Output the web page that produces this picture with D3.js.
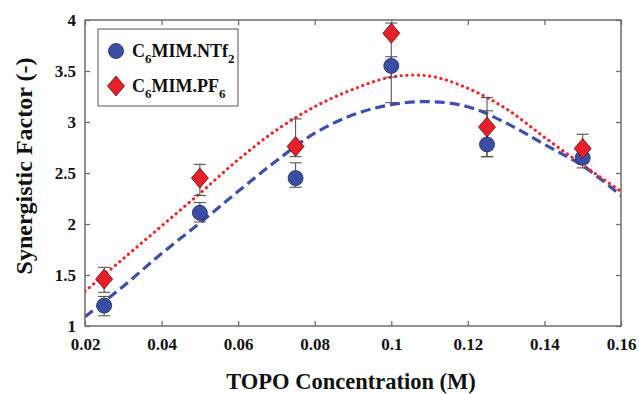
<!DOCTYPE html>
<html><head><meta charset="utf-8">
<script src="https://cdn.jsdelivr.net/npm/d3@7"></script>
<style>body{margin:0;background:#fff}svg{display:block}
svg text{font-family:"Liberation Serif","Times New Roman","DejaVu Serif",serif !important;font-weight:bold}</style>
</head><body>
<svg id="c" width="639" height="394"></svg>
<script>
// ---- data ----
const concentrations = [0.025, 0.05, 0.075, 0.1, 0.125, 0.15];
const ntf2Values = [1.20, 2.11, 2.45, 3.55, 2.78, 2.65];
const ntf2Low    = [1.10, 2.02, 2.36, 3.19, 2.66, 2.55];
const ntf2High   = [1.29, 2.21, 2.60, 3.64, 3.11, 2.73];
const pf6Values  = [1.46, 2.45, 2.76, 3.87, 2.95, 2.74];
const pf6Low     = [1.33, 2.28, 2.66, 3.44, 2.66, 2.60];
const pf6High    = [1.575, 2.585, 3.03, 3.97, 3.24, 2.88];
// fitted curves
const curveX     = [0.02, 0.03, 0.04, 0.05, 0.06, 0.07, 0.08, 0.09, 0.10, 0.11, 0.12, 0.13, 0.14, 0.15, 0.16];
const ntf2Fit    = [1.09, 1.39, 1.71, 2.01, 2.32, 2.62, 2.89, 3.07, 3.17, 3.20, 3.15, 2.99, 2.78, 2.57, 2.28];
const pf6Fit     = [1.34, 1.66, 1.98, 2.30, 2.63, 2.92, 3.15, 3.32, 3.44, 3.45, 3.33, 3.13, 2.85, 2.58, 2.32];
const xTicks = [0.02, 0.04, 0.06, 0.08, 0.1, 0.12, 0.14, 0.16];
const yTicks = [1, 1.5, 2, 2.5, 3, 3.5, 4];

const BLUE = "#3a4ea3", BLUE_LINE = "#3c4fae", RED = "#e6202a", RED_LINE = "#f0262b";
const FONT = "Liberation Serif, Times New Roman, DejaVu Serif, serif";

const svg = d3.select("#c");
const L = 85, R = 621, T = 20, B = 326;
const x = d3.scaleLinear().domain([0.02, 0.16]).range([L, R]);
const y = d3.scaleLinear().domain([1, 4]).range([B, T]);

// frame
svg.append("rect").attr("x", L).attr("y", T).attr("width", R - L).attr("height", B - T)
  .attr("fill", "none").attr("stroke", "#6e6e6e").attr("stroke-width", 1.5);

// axes
const fmt = d => String(d);
svg.append("g").attr("transform", `translate(0,${B})`)
  .call(d3.axisBottom(x).tickValues(xTicks).tickFormat(fmt).tickSizeInner(-5).tickSizeOuter(0).tickPadding(12));
svg.append("g").attr("transform", `translate(${L},0)`)
  .call(d3.axisLeft(y).tickValues(yTicks).tickFormat(fmt).tickSizeInner(-5).tickSizeOuter(0).tickPadding(9));
svg.append("g").attr("transform", `translate(0,${T})`)
  .call(d3.axisTop(x).tickValues(xTicks).tickFormat("").tickSizeInner(-5).tickSizeOuter(0));
svg.append("g").attr("transform", `translate(${R},0)`)
  .call(d3.axisRight(y).tickValues(yTicks).tickFormat("").tickSizeInner(-5).tickSizeOuter(0));
svg.selectAll(".domain").remove();
svg.selectAll("g").attr("font-family", FONT);
svg.selectAll(".tick line").attr("stroke", "#6e6e6e").attr("stroke-width", 1.3);
svg.selectAll(".tick text").attr("font-family", FONT).attr("font-weight", "bold")
  .attr("font-size", 17).attr("fill", "#111");

// titles
svg.append("text").attr("x", 351).attr("y", 389).attr("text-anchor", "middle")
  .attr("font-family", FONT).attr("font-weight", "bold").attr("font-size", 22.5).attr("fill", "#111")
  .text("TOPO Concentration (M)");
svg.append("text").attr("transform", `translate(32,${(T + B) / 2 - 7}) rotate(-90)`)
  .attr("text-anchor", "middle")
  .attr("font-family", FONT).attr("font-weight", "bold").attr("font-size", 24).attr("fill", "#111")
  .text("Synergistic Factor (-)");

// fitted curves
const line = d3.line().x(d => x(d[0])).y(d => y(d[1])).curve(d3.curveCatmullRom);
svg.append("clipPath").attr("id", "clip").append("rect")
  .attr("x", L).attr("y", T).attr("width", R - L).attr("height", B - T);
svg.append("path").datum(d3.zip(curveX, ntf2Fit)).attr("d", line).attr("clip-path", "url(#clip)")
  .attr("fill", "none").attr("stroke", BLUE_LINE).attr("stroke-width", 3.2).attr("stroke-dasharray", "10 5");
svg.append("path").datum(d3.zip(curveX, pf6Fit)).attr("d", line).attr("clip-path", "url(#clip)")
  .attr("fill", "none").attr("stroke", RED_LINE).attr("stroke-width", 3.2)
  .attr("stroke-linecap", "round").attr("stroke-dasharray", "0.1 5.6");

// error bars
function errorBars(lo, hi) {
  const g = svg.append("g").attr("stroke", "#555").attr("stroke-width", 1.1);
  concentrations.forEach((c, i) => {
    const cx = x(c);
    g.append("line").attr("x1", cx).attr("x2", cx).attr("y1", y(lo[i])).attr("y2", y(hi[i]));
    g.append("line").attr("x1", cx - 6).attr("x2", cx + 6).attr("y1", y(lo[i])).attr("y2", y(lo[i]));
    g.append("line").attr("x1", cx - 6).attr("x2", cx + 6).attr("y1", y(hi[i])).attr("y2", y(hi[i]));
  });
}
errorBars(ntf2Low, ntf2High);
errorBars(pf6Low, pf6High);

// markers
const diamond = (cx, cy, w, h) => `M${cx},${cy - h}L${cx + w},${cy}L${cx},${cy + h}L${cx - w},${cy}Z`;
svg.append("g").selectAll("circle").data(concentrations).join("circle")
  .attr("cx", d => x(d)).attr("cy", (d, i) => y(ntf2Values[i])).attr("r", 7.5)
  .attr("fill", BLUE).attr("stroke", "#1e2a5a").attr("stroke-width", 0.8);
svg.append("g").selectAll("path").data(concentrations).join("path")
  .attr("d", (d, i) => diamond(x(d), y(pf6Values[i]), 8.5, 10))
  .attr("fill", RED).attr("stroke", "#5a1010").attr("stroke-width", 0.8);

// legend
const lg = svg.append("g");
lg.append("rect").attr("x", 98).attr("y", 29).attr("width", 140).attr("height", 77)
  .attr("fill", "#fff").attr("stroke", "#555").attr("stroke-width", 1);
lg.append("circle").attr("cx", 116).attr("cy", 51).attr("r", 7.5)
  .attr("fill", BLUE).attr("stroke", "#1e2a5a").attr("stroke-width", 0.8);
lg.append("path").attr("d", diamond(116, 86, 8.5, 10))
  .attr("fill", RED).attr("stroke", "#5a1010").attr("stroke-width", 0.8);
function legendText(yy, sub1, tail, sub2) {
  const t = lg.append("text").attr("x", 132).attr("y", yy)
    .attr("font-family", FONT).attr("font-weight", "bold").attr("font-size", 18).attr("fill", "#111");
  t.append("tspan").text("C");
  t.append("tspan").attr("font-size", 13).attr("dy", 6).text(sub1);
  t.append("tspan").attr("dy", -6).text(tail);
  t.append("tspan").attr("font-size", 13).attr("dy", 6).text(sub2);
}
legendText(57, "6", "MIM.NTf", "2");
legendText(92, "6", "MIM.PF", "6");
</script>
</body></html>
